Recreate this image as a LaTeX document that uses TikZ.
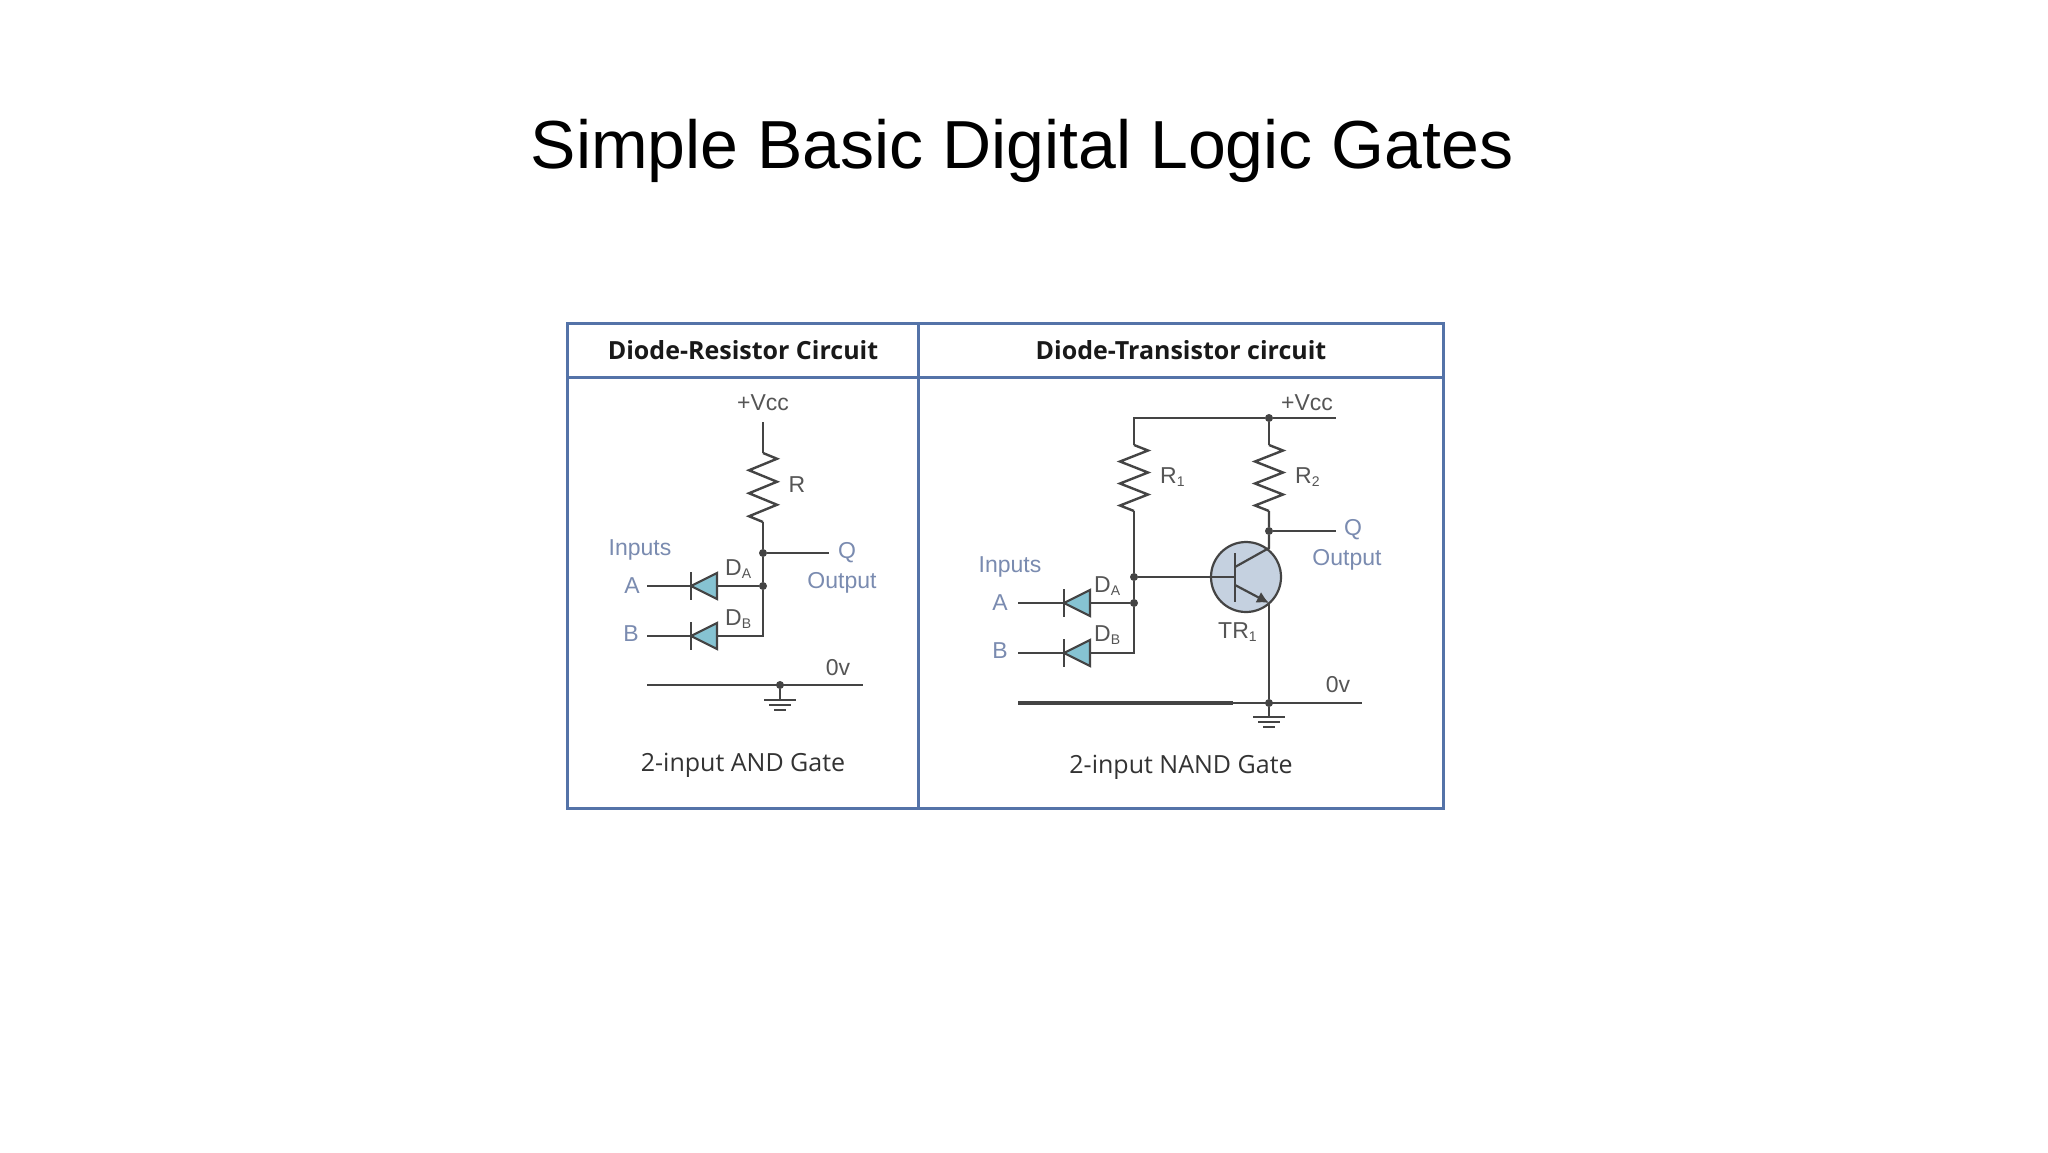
\documentclass[tikz,border=0pt]{standalone}
\usepackage{fontspec}
\setmainfont{Liberation Sans}
\newfontfamily\headfont{Open Sans}
\usetikzlibrary{decorations.pathmorphing,arrows.meta}
\definecolor{tablecol}{HTML}{5473A8}
\definecolor{wirecol}{HTML}{444444}
\definecolor{labelblue}{HTML}{7A8BB0}
\definecolor{labelgrey}{HTML}{555555}
\definecolor{diodefill}{HTML}{86C3D2}
\definecolor{tranfill}{HTML}{C5D1E0}
\newcommand{\subs}[1]{\raisebox{-3pt}{\fontsize{14}{14}\selectfont #1}}
\tikzset{
  x=1pt,y=-1pt,
  tableline/.style={draw=tablecol,line width=3pt},
  wire/.style={draw=wirecol,line width=2.2pt},
  thickwire/.style={draw=wirecol,line width=3.5pt},
  res/.style={draw=wirecol,line width=2.4pt,decorate,decoration={zigzag,segment length=#1,amplitude=14pt}},
  junction/.style={circle,fill=wirecol,inner sep=0pt,minimum size=8pt},
  title/.style={font=\fontsize{68}{80}\selectfont,text=black},
  head/.style={font=\headfont\bfseries\fontsize{25}{30}\selectfont,text=black!90},
  caption/.style={font=\headfont\fontsize{25}{30}\selectfont,text=black!80},
  blue label/.style={font=\fontsize{23}{27}\selectfont,text=labelblue,inner sep=0pt},
  grey label/.style={font=\fontsize{23}{27}\selectfont,text=labelgrey,inner sep=0pt},
  pics/diodesym/.style={code={
    \draw[draw=wirecol,line width=2.2pt,fill=diodefill] (0,0) -- (26,-13) -- (26,13) -- cycle;
    \draw[draw=wirecol,line width=2.2pt] (0,-14) -- (0,14);
  }},
  pics/groundsym/.style={code={
    \draw[draw=wirecol,line width=1.8pt] (-16,0) -- (16,0);
    \draw[draw=wirecol,line width=1.8pt] (-11,5) -- (11,5);
    \draw[draw=wirecol,line width=1.8pt] (-6,10) -- (6,10);
  }},
}
\begin{document}
\begin{tikzpicture}
\useasboundingbox (0,0) rectangle (2048,1152);
\fill[white] (0,0) rectangle (2048,1152);
\node[title] (ttl) at (1022,151) {Simple Basic Digital Logic Gates};
% table
\draw[tableline] (567,323.5) rectangle (1443,808);
\draw[tableline] (567,377) -- (1443,377);
\draw[tableline] (918,324) -- (918,808);
\node[head] (h1) at (743,350) {Diode-Resistor Circuit};
\node[head] (h2) at (1181,350) {Diode-Transistor circuit};
\node[caption] (c1) at (743,765) {2-input AND Gate};
\node[caption] (c2) at (1181,767) {2-input NAND Gate};
% left circuit
\coordinate (Ltop) at (763,422);
\coordinate (Lr1) at (763,453);
\coordinate (Lr2) at (763,522);
\node[junction] (Lq) at (763,553) {};
\node[junction] (Lda) at (763,586) {};
\coordinate (Ldb) at (763,636);
\coordinate (Lqe) at (829,553);
\coordinate (La) at (647,586);
\coordinate (Lb) at (647,636);
\coordinate (Lg1) at (647,685);
\coordinate (Lg2) at (863,685);
\node[junction] (Lgn) at (780,685) {};
\coordinate (Lgs) at (780,700);
\draw[wire] (Ltop) -- (Lr1);
\draw[res=23pt] (Lr1) -- (Lr2);
\draw[wire] (Lr2) -- (Lq) -- (Lda) -- (Ldb) -- (Lb);
\draw[wire] (Lq) -- (Lqe);
\draw[wire] (La) -- (Lda);
\draw[wire] (Lg1) -- (Lg2);
\draw[wire] (Lgn) -- (Lgs);
\pic at (691,586) {diodesym};
\pic at (691,636) {diodesym};
\pic at (Lgs) {groundsym};
\node[grey label] (lvcc) at (763,403) {+Vcc};
\node[grey label] (lr) at (797,485) {R};
\node[blue label] (linp) at (640,550) {Inputs};
\node[blue label] (la) at (632,586) {A};
\node[blue label] (lb) at (631,634) {B};
\node[grey label,anchor=west] (lda) at (725,569) {D\subs{A}};
\node[grey label,anchor=west] (ldb) at (725,619) {D\subs{B}};
\node[blue label] (lq) at (847,553) {Q};
\node[blue label] (lout) at (842,583) {Output};
\node[grey label] (l0v) at (838,668) {0v};
% right circuit
\coordinate (Rrc) at (1134,418);
\node[junction] (Rvn) at (1269,418) {};
\coordinate (Rve) at (1336,418);
\coordinate (R1a) at (1134,445);
\coordinate (R1b) at (1134,511);
\coordinate (R2a) at (1269,445);
\coordinate (R2b) at (1269,511);
\node[junction] (Rq) at (1269,531) {};
\coordinate (Rqe) at (1336,531);
\node[junction] (Rbase) at (1134,577) {};
\node[junction] (Rda) at (1134,603) {};
\coordinate (Rdb) at (1134,653);
\coordinate (Ra) at (1018,603);
\coordinate (Rb) at (1018,653);
\node[circle,draw=wirecol,line width=2.2pt,fill=tranfill,minimum size=70pt,inner sep=0pt] (Rtr) at (1246,577) {};
\coordinate (Rbb) at (1235,577);
\coordinate (Rbt) at (1235,553);
\coordinate (Rbu) at (1235,602);
\coordinate (Rcs) at (1235,567);
\coordinate (Rce) at (1269,548);
\coordinate (Res) at (1235,585);
\coordinate (Ree) at (1269,603);
\coordinate (Rg1) at (1018,703);
\coordinate (Rg2) at (1362,703);
\coordinate (Rgt) at (1233,703);
\node[junction] (Rgn) at (1269,703) {};
\coordinate (Rgs) at (1269,717);
\draw[wire] (R1a) -- (Rrc) -- (Rvn) -- (Rve);
\draw[wire] (Rvn) -- (R2a);
\draw[res=22pt] (R1a) -- (R1b);
\draw[res=22pt] (R2a) -- (R2b);
\draw[wire] (R1b) -- (Rbase) -- (Rda) -- (Rdb) -- (Rb);
\draw[wire] (R2b) -- (Rq) -- (Rce) -- (Rcs);
\draw[wire] (Rq) -- (Rqe);
\draw[wire] (Ra) -- (Rda);
\draw[wire] (Rbase) -- (Rbb);
\draw[wire] (Rbt) -- (Rbu);
\draw[wire,-{Latex[length=12pt,width=12pt]}] (Res) -- (Ree);
\draw[wire] (Ree) -- (Rgn) -- (Rgs);
\draw[wire] (Rg1) -- (Rg2);
\draw[thickwire] (Rg1) -- (Rgt);
\pic at (1064,603) {diodesym};
\pic at (1064,653) {diodesym};
\pic at (Rgs) {groundsym};
\node[grey label] (rvcc) at (1307,403) {+Vcc};
\node[grey label,anchor=west] (rr1) at (1160,477) {R\subs{1}};
\node[grey label,anchor=west] (rr2) at (1295,477) {R\subs{2}};
\node[blue label] (rinp) at (1010,567) {Inputs};
\node[blue label] (ra) at (1000,603) {A};
\node[blue label] (rb) at (1000,651) {B};
\node[grey label,anchor=west] (rda) at (1094,586) {D\subs{A}};
\node[grey label,anchor=west] (rdb) at (1094,635) {D\subs{B}};
\node[grey label,anchor=west] (rtr) at (1218,632) {TR\subs{1}};
\node[blue label] (rq) at (1353,530) {Q};
\node[blue label] (rout) at (1347,560) {Output};
\node[grey label] (r0v) at (1338,685) {0v};
\end{tikzpicture}
\end{document}
